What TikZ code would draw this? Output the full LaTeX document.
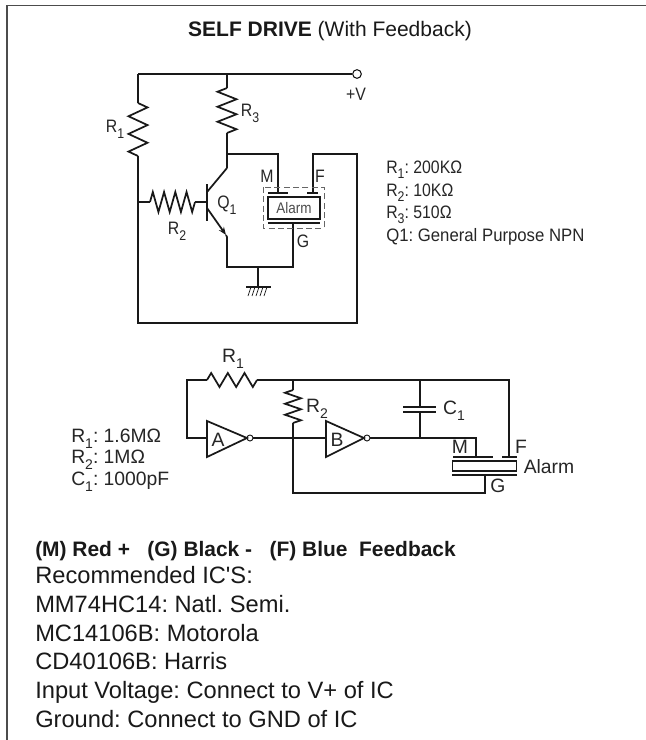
\documentclass[tikz,border=0pt]{standalone}
\usepackage{fontspec}
\setmainfont{Liberation Sans}
\newfontfamily\cond[FakeStretch=0.93]{Liberation Sans}
\newfontfamily\condb[FakeStretch=0.88]{Liberation Sans}
\newfontfamily\plainf{Liberation Sans}
\usetikzlibrary{arrows.meta}
\frenchspacing
\newcommand{\subn}[1]{\raisebox{-0.32em}{\fontsize{10.5}{12}\selectfont #1}}
\tikzset{
  x=0.75pt,y=-0.75pt,
  frameline/.style={draw=black!70,line width=0.9pt},
  wire/.style={draw=black!90,line width=1.3pt,line join=miter},
  plate/.style={draw=black!90,line width=1.5pt},
  lab/.style={inner sep=0pt,font=\condb\fontsize{13.5}{15}\selectfont,text=black!85},
  val/.style={inner sep=0pt,anchor=base west,font=\condb\fontsize{13.5}{15}\selectfont,text=black!85},
  vall/.style={inner sep=0pt,anchor=base west,font=\cond\fontsize{13.5}{15}\selectfont,text=black!85},
  lab2/.style={inner sep=0pt,font=\fontsize{14.5}{16}\selectfont,text=black!85},
  para/.style={inner sep=0pt,anchor=base west,font=\plainf\fontsize{17.75}{20}\selectfont,text=black!90},
  res3/.pic={\draw[wire] (0,0)--(1,1)--(3,-1)--(5,1)--(7,-1)--(9,1)--(11,-1)--(12,0);},
  res4/.pic={\draw[wire] (0,0)--(1,-1)--(3,1)--(5,-1)--(7,1)--(9,-1)--(11,1)--(13,-1)--(15,1)--(16,0);},
}
\begin{document}
\begin{tikzpicture}
\useasboundingbox (0,0) rectangle (646,740);
\fill[white] (0,0) rectangle (646,740);
\draw[frameline] (7,740) -- (7,5.5) -- (646,5.5);
\node[inner sep=0pt,anchor=base] (title) at (330,36) {\fontsize{15.75}{18}\selectfont\color{black!90}\textbf{SELF DRIVE} (With Feedback)};

% --- upper circuit ---
\coordinate (tl) at (138,74);
\coordinate (tm) at (227,74);
\node[circle,draw=black!90,line width=0.8pt,inner sep=0pt,minimum size=6.5pt,fill=white] (vp) at (357,74) {};
\coordinate (r1a) at (138,103); \coordinate (r1b) at (138,156);
\coordinate (r3a) at (227,88);  \coordinate (r3b) at (227,133);
\coordinate (r2a) at (150,202); \coordinate (r2b) at (195,202);
\coordinate (jb) at (138,202);
\coordinate (base) at (207,202);
\coordinate (cj) at (227,154);
\coordinate (c) at (227,168);
\coordinate (ci) at (207,192);
\coordinate (ei) at (207,208);
\coordinate (et) at (226,235);
\coordinate (e) at (227,237);
\coordinate (gl) at (227,267);
\coordinate (gm) at (258,267);
\coordinate (gr) at (293,267);
\coordinate (gb) at (258,287);
\draw[wire] (tl) -- (vp);
\draw[wire] (tl) -- (r1a) (r1b) -- (jb);
\draw[wire] (tm) -- (r3a) (r3b) -- (c);
\pic[shift={(138,103)},cm={0,-53/12,-9.5,0,(0,0)}] {res3};
\pic[shift={(227,88)},cm={0,-45/12,9.5,0,(0,0)}] {res3};
\pic[shift={(150,202)},xscale=45/16,yscale=10] {res4};
\draw[wire] (jb) -- (r2a) (r2b) -- (base);
\draw[wire] (207,184) -- (207,221);
\draw[wire] (c) -- (ci);
\draw[wire,-{Stealth[length=6pt,width=4.5pt]}] (ei) -- (et);
\draw[wire] (et) -- (e) -- (gl) -- (gr) -- (293,223);
\draw[wire] (gm) -- (gb);
\draw[wire] (246,287) -- (271,287);
\foreach \h in {251,255,259,263,267} \draw[black!90,line width=0.5pt] (\h,287) -- ++(-3,9);
\draw[wire] (cj) -- (278,154) -- (278,193);
\draw[wire] (jb) -- (138,323) -- (357,323) -- (357,154) -- (313,154) -- (313,193);
\draw[plate] (268,193) -- (288,193) (307,193) -- (318,193) (268,223) -- (320,223);
\node[draw=black!90,line width=1.5pt,minimum width=39pt,minimum height=16.5pt,inner sep=0pt,anchor=center,font=\condb\fontsize{11.5}{14}\selectfont,text=black!70] (alarm) at (294,208) {Alarm};
\draw[draw=black!60,line width=0.6pt,dash pattern=on 4.5pt off 2.5pt] (263,187) rectangle (324,228);
\node[lab] (l1) at (115,129) {R\subn{1}};
\node[lab] (l2) at (177,231) {R\subn{2}};
\node[lab] (l3) at (250,113) {R\subn{3}};
\node[lab] (lq) at (227,205) {Q\subn{1}};
\node[lab] (lm) at (267,176) {M};
\node[lab] (lf) at (320,176) {F};
\node[lab] (lg) at (303,241) {G};
\node[lab] (lv) at (356,94) {+V};
\node[val] (v1) at (386,173) {R\subn{1}: 200KΩ};
\node[val] (v2) at (386,196) {R\subn{2}: 10KΩ};
\node[val] (v3) at (386,218) {R\subn{3}: 510Ω};
\node[vall] (v4) at (386,241) {Q1: General Purpose NPN};

% --- lower circuit ---
\coordinate (a1) at (207,380); \coordinate (a2) at (257,380);
\coordinate (tl2) at (187,380); \coordinate (jr2) at (293,380);
\coordinate (jc) at (420,380); \coordinate (tr2) at (509,380);
\coordinate (r2t) at (293,390); \coordinate (r2e) at (293,423);
\coordinate (il) at (187,438); \coordinate (ia) at (207,438);
\node[circle,draw=black!90,line width=0.7pt,inner sep=0pt,minimum size=4.5pt] (ba) at (250,438) {};
\node[circle,draw=black!90,line width=0.7pt,inner sep=0pt,minimum size=4.5pt] (bb) at (367,438) {};
\coordinate (ib) at (326,438);
\coordinate (cp1) at (420,407); \coordinate (cp2) at (420,412); \coordinate (jo) at (420,438);
\coordinate (mc) at (476,438); \coordinate (mp) at (476,457);
\coordinate (gp) at (485,475); \coordinate (gc) at (485,493); \coordinate (gl2) at (293,493);
\draw[wire] (ia) -- (il) -- (tl2) -- (a1);
\pic[shift={(207,380)},xscale=50/12,yscale=-7] {res3};
\draw[wire] (a2) -- (tr2) -- (509,457);
\draw[wire] (jr2) -- (r2t);
\pic[shift={(293,390)},cm={0,-33/12,8,0,(0,0)}] {res3};
\draw[wire] (r2e) -- (gl2) -- (gc) -- (gp);
\draw[wire] (207,421) -- (247,438) -- (207,457) -- cycle;
\draw[wire] (326,421) -- (364,438) -- (326,457) -- cycle;
\draw[wire] (ba) -- (ib);
\draw[wire] (bb) -- (mc) -- (mp);
\draw[wire] (jc) -- (cp1) (cp2) -- (jo);
\draw[plate] (403,407) -- (436,407) (403,412) -- (436,412);
\draw[plate] (453,457) -- (493,457) (502,457) -- (517,457) (452,475) -- (517,475);
\node[draw=black!90,line width=1.4pt,minimum width=48pt,minimum height=7.5pt,inner sep=0pt] (alarm2) at (484.5,466) {};
\node[lab2] (m1) at (233,359) {R\subn{1}};
\node[lab2] (m2) at (317,409) {R\subn{2}};
\node[lab2] (mc1) at (454,411) {C\subn{1}};
\node[lab2] (ma) at (218,440) {A};
\node[lab2] (mb) at (337,440) {B};
\node[lab2] (mm) at (460,447) {M};
\node[lab2] (mf) at (521,447) {F};
\node[lab2] (mal) at (549,467) {Alarm};
\node[lab2] (mg) at (498,486) {G};
\node[lab2,anchor=base west] (w1) at (71,442) {R\subn{1}: 1.6MΩ};
\node[lab2,anchor=base west] (w2) at (71,463) {R\subn{2}: 1MΩ};
\node[lab2,anchor=base west] (w3) at (71,485) {C\subn{1}: 1000pF};

% --- notes ---
\node[inner sep=0pt,anchor=base west] (n0) at (35,556) {\fontsize{15.7}{18}\selectfont\bfseries\color{black!90}(M) Red +\ \ \ (G) Black -\ \ \ (F) Blue\ \ Feedback};
\node[para] (n1) at (35,583) {Recommended IC'S:};
\node[para] (n2) at (35,612) {MM74HC14: Natl. Semi.};
\node[para] (n3) at (35,641) {MC14106B: Motorola};
\node[para] (n4) at (35,669) {CD40106B: Harris};
\node[para] (n5) at (35,698) {Input Voltage: Connect to V+ of IC};
\node[para] (n6) at (35,727) {Ground: Connect to GND of IC};
\end{tikzpicture}
\end{document}
